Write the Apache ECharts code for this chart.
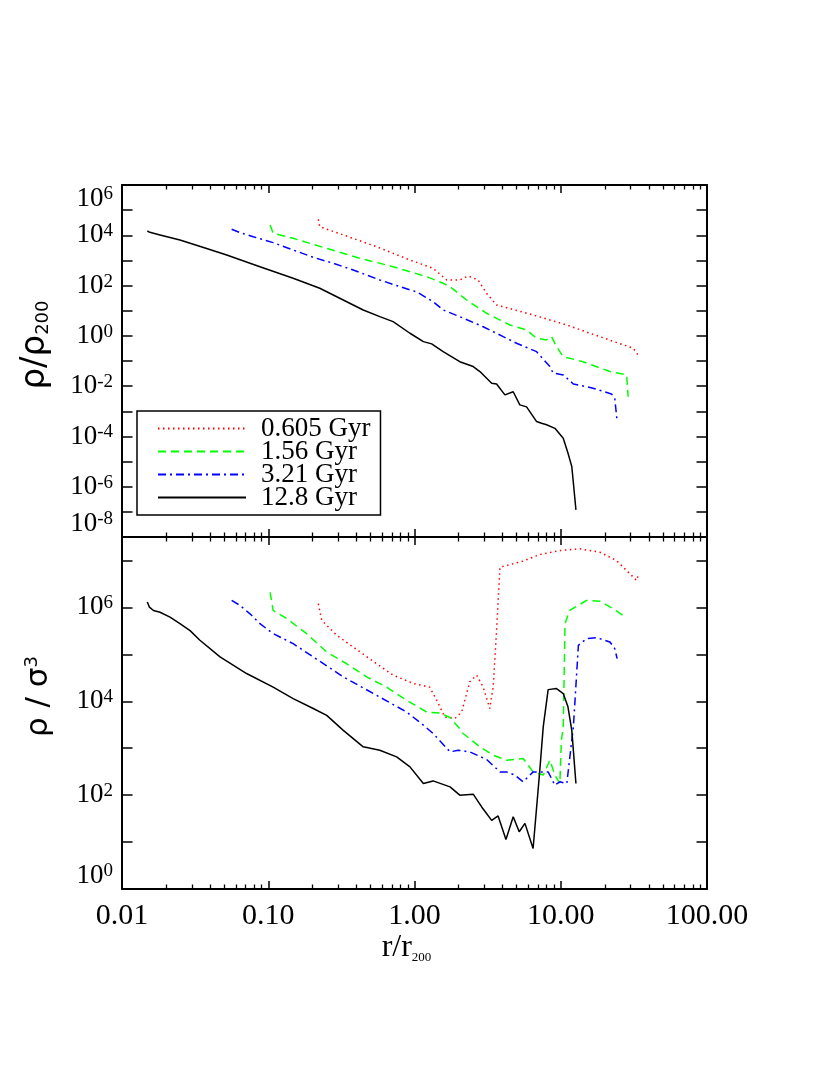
<!DOCTYPE html>
<html>
<head>
<meta charset="utf-8">
<script src="https://cdn.jsdelivr.net/npm/echarts@6/dist/echarts.min.js"></script>
<style>
  html, body { margin: 0; padding: 0; background: #fff; }
  #chart { width: 830px; height: 1075px; }
</style>
</head>
<body>
<div id="chart"></div>
<script>
// legend names, in legend order
var ages = ['0.605 Gyr', '1.56 Gyr', '3.21 Gyr', '12.8 Gyr'];

// upper panel: rho/rho200 against r/r200
var dens0605 = [[0.220,4.3e4],[0.225,2.2e4],[0.326,1.03e4],[0.551,3.5e3],[0.931,1.04e3],[1.34,487],[1.66,167],[2.04,167],[2.33,241],[2.72,167],[3.11,49],[3.64,16.9],[6.47,6.8],[11.0,2.7],[18.5,0.93],[31.3,0.32],[34.4,0.149]];
var dens156 = [[0.103,2.57e4],[0.108,1.2e4],[0.148,7.6e3],[0.251,3.0e3],[0.424,1.22e3],[0.714,564],[1.21,226],[1.57,123],[1.75,90],[2.27,26.7],[3.11,7.9],[4.49,2.7],[5.84,1.72],[6.84,0.80],[8.0,0.69],[8.65,0.93],[9.36,0.37],[10.4,0.149],[14.2,0.094],[21.7,0.038],[28.2,0.028],[28.9,0.0038]];
var dens321 = [[0.0562,1.73e4],[0.0642,1.27e4],[0.0789,8.8e3],[0.108,5.1e3],[0.148,2.6e3],[0.203,1.33e3],[0.278,770],[0.381,417],[0.579,167],[0.931,67],[1.03,57],[1.34,23],[1.57,10.7],[2.04,5.8],[2.95,2.3],[4.04,0.93],[4.99,0.51],[6.84,0.235],[8.43,0.060],[8.87,0.033],[10.4,0.028],[12.2,0.0122],[16.6,0.0083],[22.2,0.0049],[23.4,0.0033],[24.3,3.9e-4]];
var dens128 = [[0.0149,1.48e4],[0.0155,1.31e4],[0.0182,1.03e4],[0.0249,6.5e3],[0.0379,3.0e3],[0.052,1.65e3],[0.0877,564],[0.148,195],[0.225,78],[0.294,36],[0.381,16.9],[0.446,10.7],[0.579,5.8],[0.714,3.67],[0.931,1.27],[1.15,0.59],[1.31,0.48],[1.57,0.235],[2.04,0.094],[2.52,0.060],[2.80,0.038],[3.37,0.013],[3.64,0.0122],[4.15,0.0045],[4.73,0.0060],[5.25,0.0018],[5.84,0.0015],[6.84,3.9e-4],[7.39,3.35e-4],[8.0,2.9e-4],[9.12,2.1e-4],[10.4,8.5e-5],[11.2,2.2e-5],[11.9,6.3e-6],[12.2,1.4e-6],[12.7,1.2e-7]];

// lower panel: rho/sigma^3 against r/r200
var phase0605 = [[0.220,1.2e6],[0.232,5.3e5],[0.294,2.54e5],[0.381,1.43e5],[0.551,6.3e4],[0.714,3.6e4],[0.98,2.4e4],[1.27,2.0e4],[1.42,1.05e4],[1.61,4.6e3],[1.89,4.3e3],[2.10,5.9e3],[2.39,2.6e4],[2.66,3.6e4],[2.95,2.0e4],[3.27,7.0e3],[3.45,2.0e4],[3.64,3.2e5],[3.84,7.2e6],[4.26,7.8e6],[5.53,9.7e6],[7.19,1.34e7],[9.86,1.63e7],[13.5,1.77e7],[18.5,1.5e7],[24.0,1.0e7],[29.7,5.2e6],[33.0,3.75e6],[33.8,4.8e6]];
var phase156 = [[0.103,2.1e6],[0.108,8.6e5],[0.134,5.75e5],[0.183,2.76e5],[0.251,1.12e5],[0.344,6.3e4],[0.471,3.3e4],[0.644,2.0e4],[0.883,1.05e4],[1.21,5.9e3],[1.49,5.6e3],[1.75,4.5e3],[2.04,2.6e3],[2.15,2.06e3],[2.80,1.07e3],[3.45,710],[4.26,556],[5.53,604],[6.47,313],[7.59,267],[8.43,556],[9.12,267],[9.86,177],[10.1,1.48e3],[10.4,2.84e3],[10.7,4.5e5],[11.5,8.6e5],[15.0,1.41e6],[18.5,1.36e6],[22.8,9.4e5],[28.2,6.0e5]];
var phase321 = [[0.0562,1.41e6],[0.0642,1.10e6],[0.075,7.3e5],[0.0877,4.5e5],[0.108,2.76e5],[0.148,1.69e5],[0.203,8.8e4],[0.326,3.3e4],[0.579,1.23e4],[0.883,5.9e3],[1.15,3.1e3],[1.34,2.06e3],[1.75,834],[1.99,906],[2.39,834],[3.11,575],[3.84,313],[4.26,313],[4.85,267],[5.53,192],[6.47,313],[8.2,313],[9.12,163],[9.86,192],[11.0,177],[11.9,1.48e3],[12.2,2.84e3],[13.2,1.55e5],[15.0,2.16e5],[17.6,2.27e5],[21.7,1.83e5],[23.4,1.32e5],[24.3,8.1e4]];
var phase128 = [[0.0149,1.30e6],[0.0154,1.01e6],[0.0164,8.6e5],[0.0182,7.9e5],[0.0213,6.2e5],[0.0249,4.5e5],[0.0292,3.2e5],[0.0341,2.0e5],[0.0468,8.8e4],[0.0711,3.9e4],[0.108,2.0e4],[0.148,1.14e4],[0.203,7.0e3],[0.251,5.0e3],[0.326,2.4e3],[0.446,1.07e3],[0.579,906],[0.755,653],[0.931,400],[1.15,177],[1.34,201],[1.75,150],[2.04,100],[2.52,105],[2.88,56],[3.37,29],[3.73,36],[4.22,11.4],[4.73,34.5],[5.2,16.6],[5.69,25],[6.47,7.3],[7.19,340],[7.59,2.84e3],[8.2,1.77e4],[9.36,1.86e4],[10.4,1.46e4],[11.2,7.6e3],[11.9,2.4e3],[12.7,177]];

var colors = ['#ff0000', '#00ff00', '#0000ff', '#000000'];
var dashes = [[1.5, 3.5], [8, 5], [8, 4, 2, 4], 'solid'];

var serif = 'Liberation Serif';
var sans = 'DejaVu Sans';

function powLabel(v) {
  var e = Math.log10(v);
  var n = Math.round(e);
  if (Math.abs(e - n) > 1e-6 || n % 2 !== 0) return '';
  return '{b|10}{s|' + n + '}';
}

function xAxisDef(grid, pos, labels) {
  var ax = {
    type: 'log', logBase: 10, gridIndex: grid, position: pos,
    min: 0.01, max: 100,
    axisLine: { onZero: false, lineStyle: { color: '#000', width: 2 } },
    axisTick: { inside: true, length: 8, lineStyle: { color: '#000', width: 1.5 } },
    minorTick: { show: true, splitNumber: 9, length: 4.5, lineStyle: { color: '#000', width: 1.3 } },
    splitLine: { show: false },
    axisLabel: { show: labels, margin: 12, fontFamily: serif, fontSize: 30, color: '#000',
      formatter: function (v) { return v.toFixed(2); } }
  };
  if (labels) {
    ax.name = '{a|r/r}{sub|200}';
    ax.nameLocation = 'middle';
    ax.nameGap = 34;
    ax.nameTextStyle = { color: '#000', padding: [0, 16, 0, 0], rich: {
      a: { fontFamily: serif, fontSize: 32, lineHeight: 32, color: '#000' },
      sub: { fontFamily: serif, fontSize: 13, lineHeight: 13, verticalAlign: 'bottom', color: '#000' }
    } };
  }
  return ax;
}

function yAxisDef(grid, pos, min, max, labels) {
  return {
    type: 'log', logBase: 10, gridIndex: grid, position: pos,
    min: min, max: max, interval: 1,
    axisLine: { onZero: false, lineStyle: { color: '#000', width: 2 } },
    axisTick: { inside: true, length: 10.5, lineStyle: { color: '#000', width: 1.5 } },
    splitLine: { show: false },
    axisLabel: {
      show: labels, margin: 9, formatter: powLabel,
      verticalAlignMinLabel: 'bottom', verticalAlignMaxLabel: 'top',
      rich: {
        b: { fontFamily: serif, fontSize: 27, lineHeight: 27, color: '#000' },
        s: { fontFamily: serif, fontSize: 19, lineHeight: 19, verticalAlign: 'top', color: '#000' }
      }
    }
  };
}

var topY = yAxisDef(0, 'left', 1e-8, 1e6, true);
topY.name = '{a|ρ/ρ}{sub|200}';
topY.nameLocation = 'middle';
topY.nameRotate = 90;
topY.nameGap = 70;
topY.nameTextStyle = { color: '#000', padding: [0, 0, 0, 32], rich: {
  a: { fontFamily: sans, fontSize: 34, lineHeight: 34, color: '#000' },
  sub: { fontFamily: sans, fontSize: 18, lineHeight: 18, verticalAlign: 'bottom', color: '#000' }
} };

var botY = yAxisDef(1, 'left', 1, Math.pow(10, 7.5), true);
botY.name = '{a|ρ / σ}{sup|3}';
botY.nameLocation = 'middle';
botY.nameRotate = 90;
botY.nameGap = 68;
botY.nameTextStyle = { color: '#000', padding: [0, 0, 0, 33], rich: {
  a: { fontFamily: sans, fontSize: 31, lineHeight: 31, color: '#000' },
  sup: { fontFamily: sans, fontSize: 18, lineHeight: 18, verticalAlign: 'top', color: '#000' }
} };

var topSets = [dens0605, dens156, dens321, dens128];
var botSets = [phase0605, phase156, phase321, phase128];

var series = [];
[topSets, botSets].forEach(function (sets, panel) {
  sets.forEach(function (d, i) {
    series.push({
      name: ages[i], type: 'line', data: d,
      xAxisIndex: panel * 2, yAxisIndex: panel * 2,
      symbol: 'none', smooth: false,
      lineStyle: { color: colors[i], width: 1.5, type: dashes[i] },
      itemStyle: { color: colors[i] }
    });
  });
});

var chart = echarts.init(document.getElementById('chart'), null, { renderer: 'canvas' });
chart.setOption({
  animation: false,
  backgroundColor: '#fff',
  grid: [
    { left: 122, top: 185, width: 585, height: 352, outerBoundsMode: 'none' },
    { left: 122, top: 537, width: 585, height: 352, outerBoundsMode: 'none' }
  ],
  legend: {
    data: ages, orient: 'vertical', left: 137, top: 411,
    padding: [4, 10, 4, 20], itemGap: -4, itemWidth: 88, itemHeight: 14,
    borderColor: '#000', borderWidth: 1.5, backgroundColor: '#fff',
    itemStyle: { color: 'rgba(0,0,0,0)', borderWidth: 0 },
    textStyle: { fontFamily: serif, fontSize: 27, color: '#000', padding: [0, 0, 0, 10] }
  },
  xAxis: [
    xAxisDef(0, 'bottom', false), xAxisDef(0, 'top', false),
    xAxisDef(1, 'bottom', true), xAxisDef(1, 'top', false)
  ],
  yAxis: [
    topY, yAxisDef(0, 'right', 1e-8, 1e6, false),
    botY, yAxisDef(1, 'right', 1, Math.pow(10, 7.5), false)
  ],
  series: series
});
</script>
</body>
</html>
